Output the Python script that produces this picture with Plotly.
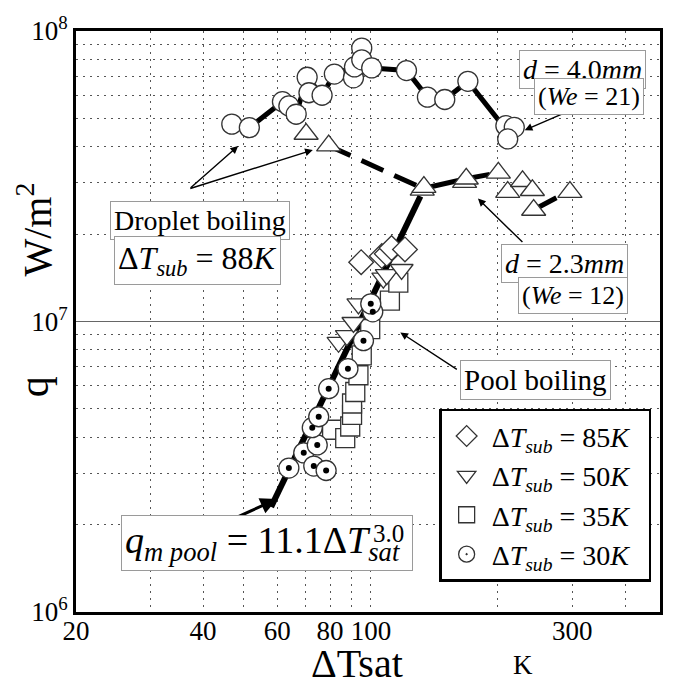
import plotly.graph_objects as go

# ---------------- data ----------------
# droplet boiling, d = 4.0 mm (open circles)
d40_x = [46.8, 51.5, 61.7, 63.9, 66.5, 70.6, 71.3, 76.6, 81.9, 90.9, 91.4, 95.1, 95.1, 100.4,
         121.4, 136.1, 149.6, 169.7, 208.8, 218.6, 210.9]
d40_q = [4.78e7, 4.65e7, 5.71e7, 5.52e7, 5.17e7, 6.93e7, 6.13e7, 6.01e7, 7.11e7, 6.9e7, 7.52e7,
         8.73e7, 7.96e7, 7.46e7, 7.31e7, 5.92e7, 5.81e7, 6.71e7, 4.72e7, 4.66e7, 4.25e7]
# trend drawn through the d = 4.0 mm points
d40_trend_x = [46.8, 51.5, 61.7, 66.5, 70.6, 76.6, 81.9, 91.4, 100.4, 121.4, 136.1, 149.6, 169.7, 210.9]
d40_trend_q = [4.78e7, 4.65e7, 5.71e7, 5.17e7, 6.93e7, 6.01e7, 7.11e7, 7.52e7, 7.46e7, 7.31e7,
               5.92e7, 5.81e7, 6.71e7, 4.5e7]

# droplet boiling, d = 2.3 mm (open triangles)
d23_x = [70.2, 79.4, 132.3, 133.5, 166.7, 168.2, 200.4, 210.9, 228.7, 241.3, 243.0, 296.2]
d23_q = [4.42e7, 4.03e7, 2.84e7, 2.90e7, 3.02e7, 3.10e7, 3.25e7, 2.79e7, 3.04e7, 2.83e7, 2.42e7, 2.79e7]
# trend through the d = 2.3 mm points
d23_solid_x = [132.9, 168.2]
d23_solid_q = [2.87e7, 3.10e7]
d23_dash_x = [79.4, 132.9, None, 168.2, 200.4, None, 245.0, 292.0]
d23_dash_q = [4.03e7, 2.87e7, None, 3.10e7, 3.25e7, None, 2.44e7, 2.79e7]

# pool boiling
p85_x = [94.8, 106.1, 109.0, 111.9, 120.4]
p85_q = [1.60e7, 1.68e7, 1.71e7, 1.79e7, 1.77e7]
p50_x = [83.8, 87.7, 90.9, 93.4, 107.0, 109.0, 118.2]
p50_q = [8.48e6, 8.94e6, 9.92e6, 1.15e7, 1.41e7, 1.45e7, 1.51e7]
p35_x = [80.9, 86.9, 89.3, 90.2, 90.2, 91.8, 93.4, 95.1, 99.6, 110.9, 116.1]
p35_q = [4.24e6, 3.97e6, 4.35e6, 4.77e6, 5.22e6, 5.72e6, 6.53e6, 7.64e6, 9.42e6, 1.18e7, 1.36e7]
p30_x = [63.9, 69.3, 73.2, 74.6, 78.3, 72.6, 75.2, 79.4, 88.2, 96.0, 101.0, 99.9]
p30_q = [3.13e6, 3.53e6, 3.18e6, 3.76e6, 3.07e6, 4.31e6, 4.70e6, 5.87e6, 6.88e6, 8.59e6, 1.08e7, 1.15e7]

# pool boiling correlation line (read end points)
pool_x = [58.0, 131.0]
pool_q = [2.3e6, 2.7e7]

legend_names = ["Δ<i>T</i><sub><i>sub</i></sub> = 85<i>K</i>&nbsp;&nbsp;",
                "Δ<i>T</i><sub><i>sub</i></sub> = 50<i>K</i>&nbsp;&nbsp;",
                "Δ<i>T</i><sub><i>sub</i></sub> = 35<i>K</i>&nbsp;&nbsp;",
                "Δ<i>T</i><sub><i>sub</i></sub> = 30<i>K</i>&nbsp;&nbsp;"]

x_tickvals = [20, 40, 60, 80, 100, 300]
x_ticktext = ["20", "40", "60", "80", "100", "300"]
x_minor = [30, 40, 50, 60, 70, 80, 90, 100, 200, 300, 400]
y_tickvals = [1e6, 1e7, 1e8]
y_ticktext = ["10<sup>6</sup>", "10<sup>7</sup>", "10<sup>8</sup>"]
y_minor = [2e6, 3e6, 4e6, 5e6, 6e6, 7e6, 8e6, 9e6, 2e7, 3e7, 4e7, 5e7, 6e7, 7e7, 8e7, 9e7]

# ---------------- layout helpers ----------------
W, H = 675, 686
L, R, T, B = 76, 663, 26, 612
SERIF = "Liberation Serif, Times New Roman, DejaVu Serif, serif"


def pxp(x):
    return (x - L) / (R - L)


def pyp(y):
    return (B - y) / (B - T)


MK_LINE = dict(color="#333333", width=1.3)

fig = go.Figure()

# trend lines first (below the markers)
fig.add_trace(go.Scatter(x=d40_trend_x, y=d40_trend_q, mode="lines",
                         line=dict(color="black", width=5), showlegend=False, hoverinfo="skip"))
fig.add_trace(go.Scatter(x=d23_solid_x, y=d23_solid_q, mode="lines",
                         line=dict(color="black", width=5), showlegend=False, hoverinfo="skip"))
fig.add_trace(go.Scatter(x=d23_dash_x, y=d23_dash_q, mode="lines", connectgaps=False,
                         line=dict(color="black", width=5, dash="24px,12px"),
                         showlegend=False, hoverinfo="skip"))
fig.add_trace(go.Scatter(x=pool_x, y=pool_q, mode="lines",
                         line=dict(color="black", width=6), showlegend=False, hoverinfo="skip"))

# droplet boiling markers
fig.add_trace(go.Scatter(x=d40_x, y=d40_q, mode="markers", showlegend=False,
                         marker=dict(symbol="circle", size=20, color="white", line=MK_LINE)))
fig.add_trace(go.Scatter(x=d23_x, y=d23_q, mode="markers", showlegend=False,
                         marker=dict(symbol="triangle-up", size=21, color="white", line=MK_LINE)))

# pool boiling markers
fig.add_trace(go.Scatter(x=p35_x, y=p35_q, mode="markers", name=legend_names[2], legendrank=3,
                         marker=dict(symbol="square", size=19, color="white", line=MK_LINE)))
fig.add_trace(go.Scatter(x=p50_x, y=p50_q, mode="markers", name=legend_names[1], legendrank=2,
                         marker=dict(symbol="triangle-down", size=20, color="white", line=MK_LINE)))
fig.add_trace(go.Scatter(x=p85_x, y=p85_q, mode="markers", name=legend_names[0], legendrank=1,
                         marker=dict(symbol="diamond", size=19, color="white", line=MK_LINE)))
fig.add_trace(go.Scatter(x=p30_x, y=p30_q, mode="markers", name=legend_names[3], legendrank=4,
                         marker=dict(symbol="circle-dot", size=20, color="white", line=MK_LINE)))
fig.add_trace(go.Scatter(x=p30_x, y=p30_q, mode="markers", showlegend=False, hoverinfo="skip",
                         marker=dict(symbol="circle", size=6, color="black")))

# ---------------- annotations ----------------
ann = []


def box(text, x0, y0, size):
    ann.append(dict(text=text, xref="paper", yref="paper", x=pxp(x0), y=pyp(y0),
                    xanchor="left", yanchor="top", showarrow=False,
                    font=dict(family=SERIF, size=size, color="black"),
                    bgcolor="white", bordercolor="#9a9a9a", borderwidth=1, borderpad=3))


def arrow(x_tail, y_tail, x_head, y_head, width=1.4):
    ann.append(dict(text="", xref="paper", yref="paper", x=pxp(x_head), y=pyp(y_head),
                    ax=x_tail - x_head, ay=y_tail - y_head, axref="pixel", ayref="pixel",
                    showarrow=True, arrowhead=2, arrowsize=1.1, arrowwidth=width,
                    arrowcolor="black"))


# arrows
arrow(190, 185, 239, 142)
arrow(190, 185, 314, 146)
arrow(594, 97, 527, 126)
arrow(526, 240, 480, 195)
arrow(460, 368, 402, 330)
arrow(188, 539, 278, 498, width=3)

box("<i>d</i> = 4.0<i>mm</i>", 521, 45, 28)
box("(<i>We</i> = 21)", 536, 73, 26)
box("Droplet boiling", 110, 197, 28)
box("Δ<i>T</i><sub><i>sub</i></sub> = 88<i>K</i>", 114, 233, 32)
box("<i>d</i> = 2.3<i>mm</i>", 503, 241, 28)
box("(<i>We</i> = 12)", 520, 274, 26)
box("Pool boiling", 462, 358, 29)
box("<i>q</i><sub><i>m pool</i></sub> = 11.1Δ<i>T</i><sub><i>sat</i></sub>&nbsp;", 121, 514, 38)
ann.append(dict(text="3.0", xref="paper", yref="paper", x=pxp(390), y=pyp(533),
                xanchor="center", yanchor="middle", showarrow=False,
                font=dict(family=SERIF, size=25, color="black")))

# axis titles
ann.append(dict(text="ΔTsat", xref="paper", yref="paper", x=pxp(358), y=pyp(664),
                xanchor="center", yanchor="middle", showarrow=False,
                font=dict(family=SERIF, size=40, color="black")))
ann.append(dict(text="K", xref="paper", yref="paper", x=pxp(525), y=pyp(665),
                xanchor="center", yanchor="middle", showarrow=False,
                font=dict(family=SERIF, size=27, color="black")))
ann.append(dict(text="q", xref="paper", yref="paper", x=pxp(34), y=pyp(385), textangle=-90,
                xanchor="center", yanchor="middle", showarrow=False,
                font=dict(family=SERIF, size=42, color="black")))
ann.append(dict(text="W/m<sup>2</sup>", xref="paper", yref="paper", x=pxp(34), y=pyp(226),
                textangle=-90, xanchor="center", yanchor="middle", showarrow=False,
                font=dict(family=SERIF, size=40, color="black")))

GRID = "#555555"
fig.update_layout(
    width=W, height=H,
    margin=dict(l=L, r=W - R, t=T, b=H - B),
    paper_bgcolor="white", plot_bgcolor="white",
    font=dict(family=SERIF, size=24, color="black"),
    xaxis=dict(type="log", range=[1.30103, 2.685], tickvals=x_tickvals, ticktext=x_ticktext,
               showgrid=False, zeroline=False, ticks="", ticklen=0, ticklabelstandoff=-7,
               showline=True, linewidth=3,
               linecolor="black", mirror=True, tickfont=dict(size=27, family=SERIF),
               minor=dict(tickvals=x_minor, showgrid=True, gridcolor=GRID, gridwidth=1.3,
                          griddash="2px,5px", ticks="")),
    yaxis=dict(type="log", range=[6, 8], tickvals=y_tickvals, ticktext=y_ticktext,
               showgrid=True, gridcolor="#666666", gridwidth=1.2, zeroline=False, ticks="",
               ticklen=0, showline=True, linewidth=3, linecolor="black", mirror=True,
               tickfont=dict(size=27, family=SERIF),
               minor=dict(tickvals=y_minor, showgrid=True, gridcolor=GRID, gridwidth=1.3,
                          griddash="2px,5px", ticks="")),
    legend=dict(x=pxp(441), y=pyp(407), xanchor="left", yanchor="top",
                bgcolor="white", bordercolor="black", borderwidth=2.5,
                font=dict(family=SERIF, size=28, color="black"),
                tracegroupgap=18, itemwidth=40, traceorder="normal"),
    annotations=ann,
    showlegend=True,
)

fig.write_html("out.html", config={"displayModeBar": False},
               post_script="document.body.style.margin='0';document.body.style.overflow='hidden';")
